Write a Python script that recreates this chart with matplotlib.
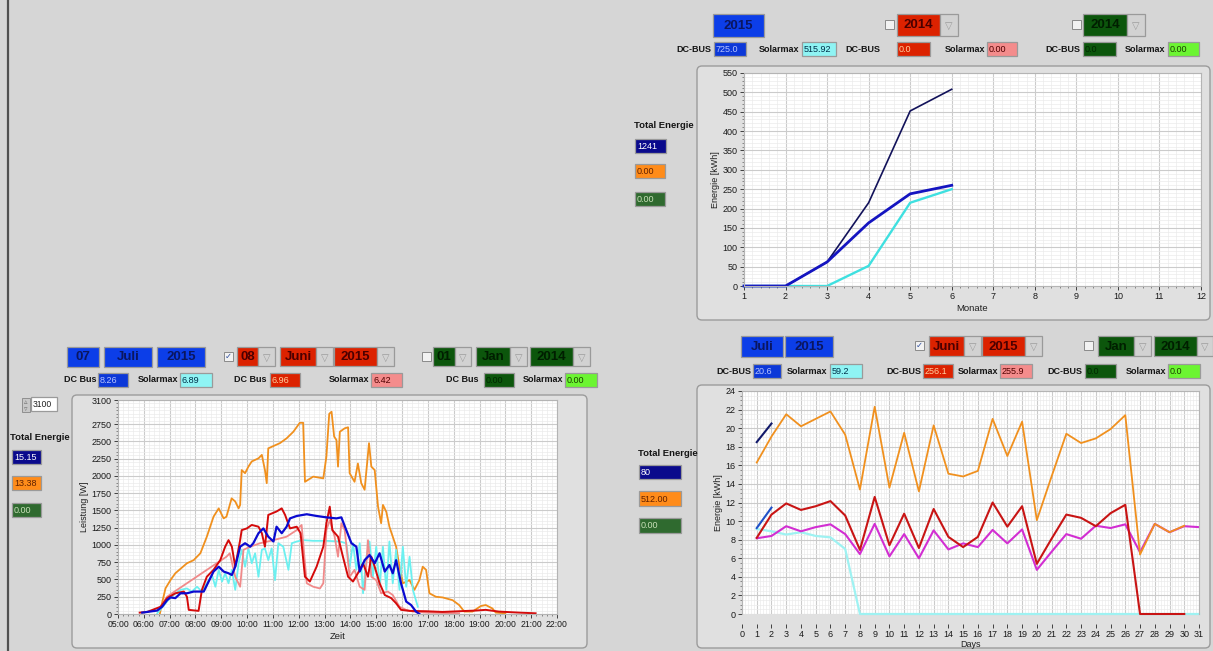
import numpy as np
import matplotlib
matplotlib.use('Agg')
import matplotlib.pyplot as plt
from matplotlib.patches import Rectangle, FancyBboxPatch
from matplotlib.ticker import MultipleLocator

plt.rcParams['font.family'] = ['Liberation Sans', 'DejaVu Sans']

W, H = 1213, 651
BG = '#d6d6d6'

# monthly energy 2015 (top right)
monate = [1, 2, 3, 4, 5, 6]
monat_summe = [0, 0, 62, 215, 452, 508]
monat_dcbus = [0, 0, 62, 163, 238, 260]
monat_solarmax = [0, 0, 0, 52, 215, 250]

# daily energy (bottom right)
tage_juni = list(range(1, 31))
tag_summe_juni = [16.3, 19.1, 21.5, 20.2, 21.0, 21.8, 19.3, 13.4, 22.3, 13.6,
                  19.5, 13.2, 20.3, 15.1, 14.8, 15.4, 21.0, 17.0, 20.7, 10.1,
                  14.8, 19.4, 18.4, 18.9, 19.9, 21.4, 6.4, 9.7, 8.8, 9.5]
tag_dcbus_juni = [8.2, 10.7, 11.9, 11.2, 11.6, 12.15, 10.6, 6.9, 12.6, 7.4,
                  10.8, 7.1, 11.3, 8.3, 7.2, 8.3, 12.0, 9.4, 11.6, 5.4,
                  8.1, 10.7, 10.35, 9.45, 10.85, 11.75, 0, 0, 0, 0]
tage_31 = list(range(1, 32))
tag_solarmax_juni = [8.15, 8.4, 9.45, 8.9, 9.35, 9.65, 8.6, 6.45, 9.7, 6.2,
                     8.6, 6.0, 9.0, 6.95, 7.6, 7.2, 9.05, 7.6, 9.1, 4.75,
                     6.7, 8.6, 8.1, 9.5, 9.25, 9.65, 6.65, 9.7, 8.8, 9.45, 9.35]
tag_solarmax_juli = [9.15, 8.9, 8.55, 8.8, 8.4, 8.25, 7.0, 0, 0, 0,
                     0, 0, 0, 0, 0, 0, 0, 0, 0, 0,
                     0, 0, 0, 0, 0, 0, 0, 0, 0, 0, 0]
tage_juli = [1, 2]
tag_summe_juli = [18.5, 20.5]
tag_dcbus_juli = [9.25, 11.45]

# power over the day (bottom left), (hour, W)
leistung_orange = [(6.62, 0), (6.7, 150), (6.84, 372), (7.03, 490), (7.22, 590),
                   (7.67, 735), (7.93, 780), (8.19, 880), (8.44, 1120), (8.70, 1410),
                   (8.9, 1530), (9.09, 1385), (9.2, 1410), (9.4, 1675), (9.54, 1630),
                   (9.67, 1530), (9.73, 1580), (9.79, 2085), (9.92, 2040), (10.05, 2135),
                   (10.18, 2210), (10.44, 2255), (10.57, 2305), (10.69, 2085), (10.76, 1895),
                   (10.82, 2400), (11.27, 2475), (11.53, 2545), (11.79, 2640), (12.04, 2770),
                   (12.17, 2770), (12.24, 1915), (12.56, 1990), (12.95, 1965), (13.07, 2280),
                   (13.18, 2900), (13.27, 2930), (13.37, 2570), (13.46, 2520), (13.52, 2135),
                   (13.59, 2640), (13.78, 2690), (13.91, 2705), (13.97, 2040), (14.16, 1915),
                   (14.29, 2180), (14.42, 1895), (14.55, 1800), (14.72, 2475), (14.81, 2135),
                   (14.94, 2085), (15.07, 1555), (15.19, 1315), (15.26, 1580), (15.39, 1480),
                   (15.51, 1265), (15.64, 1120), (15.77, 975), (15.9, 685), (16.03, 445),
                   (16.29, 490), (16.48, 350), (16.67, 490), (16.8, 685), (16.93, 640),
                   (17.06, 300), (17.31, 250), (17.57, 240), (17.96, 200), (18.21, 130),
                   (18.41, 35), (18.73, 35), (19.05, 115), (19.24, 130), (19.5, 80),
                   (19.63, 20), (20.0, 10)]
leistung_dcbus_juni = [(5.84, 20), (6.13, 30), (6.65, 105), (6.9, 230), (7.22, 300),
                       (7.55, 325), (7.67, 250), (7.74, 60), (8.12, 45), (8.25, 350),
                       (8.44, 540), (8.70, 640), (8.96, 780), (9.15, 975), (9.28, 1070),
                       (9.41, 975), (9.54, 685), (9.73, 1070), (9.79, 1215), (9.99, 1240),
                       (10.18, 1290), (10.44, 1265), (10.57, 1170), (10.69, 975), (10.82, 1435),
                       (11.14, 1485), (11.34, 1530), (11.47, 1435), (11.66, 1240), (11.92, 1265),
                       (12.07, 1170), (12.24, 540), (12.43, 470), (12.69, 685), (12.95, 975),
                       (13.07, 1315), (13.2, 1555), (13.3, 1215), (13.52, 1120), (13.71, 830),
                       (13.91, 540), (14.1, 470), (14.29, 590), (14.49, 735), (14.68, 540),
                       (14.81, 830), (14.94, 685), (15.13, 445), (15.33, 275), (15.58, 230),
                       (15.77, 155), (15.96, 60), (16.29, 45), (16.93, 40), (17.57, 30),
                       (18.21, 40), (18.86, 50), (19.24, 60), (19.75, 35), (20.53, 20),
                       (21.17, 10)]
leistung_solarmax_juni = [(6.65, 105), (6.9, 250), (7.05, 290), (9.2, 830), (9.33, 880),
                          (9.54, 540), (9.73, 395), (9.86, 930), (10.12, 975), (10.5, 1025),
                          (11.02, 1070), (11.53, 1120), (11.92, 1215), (12.11, 1290), (12.24, 735),
                          (12.31, 445), (12.56, 395), (12.82, 370), (12.95, 445), (13.07, 1215),
                          (13.2, 1360), (13.39, 1120), (13.52, 830), (13.65, 1315), (13.78, 1215),
                          (13.97, 540), (14.16, 640), (14.36, 395), (14.55, 350), (14.68, 1070),
                          (14.81, 540), (15.0, 490), (15.19, 300), (15.45, 325), (15.64, 275),
                          (15.9, 105), (16.16, 60), (16.42, 35), (16.93, 20), (18.21, 10)]
leistung_dcbus_juli = [(5.94, 20), (6.52, 50), (6.71, 105), (6.9, 200), (7.03, 240),
                       (7.22, 230), (7.42, 300), (7.67, 300), (7.93, 325), (8.32, 325),
                       (8.51, 470), (8.7, 615), (8.9, 685), (9.09, 615), (9.28, 590),
                       (9.41, 565), (9.54, 685), (9.73, 975), (9.92, 1025), (10.12, 975),
                       (10.24, 1025), (10.44, 1170), (10.63, 1240), (10.82, 1120), (11.02, 1050),
                       (11.14, 1265), (11.34, 1170), (11.53, 1265), (11.66, 1385), (11.92, 1420),
                       (12.31, 1445), (12.69, 1420), (13.07, 1400), (13.46, 1385), (13.65, 1400),
                       (13.84, 1215), (14.04, 1025), (14.23, 975), (14.36, 615), (14.55, 780),
                       (14.74, 855), (14.94, 735), (15.13, 880), (15.33, 615), (15.51, 710),
                       (15.64, 590), (15.77, 780), (15.96, 445), (16.16, 180), (16.35, 130),
                       (16.54, 35), (16.67, 0)]
leistung_solarmax_juli = [(6.52, 10), (7.03, 240), (7.42, 350), (7.67, 370), (7.86, 325),
                          (8.06, 395), (8.25, 325), (8.44, 445), (8.64, 565), (8.77, 395),
                          (8.9, 640), (9.03, 470), (9.15, 590), (9.28, 445), (9.41, 640),
                          (9.54, 350), (9.67, 735), (9.79, 930), (9.92, 685), (10.05, 950),
                          (10.18, 735), (10.31, 880), (10.44, 540), (10.57, 930), (10.69, 950),
                          (10.82, 780), (10.95, 950), (11.08, 490), (11.21, 1025), (11.4, 975),
                          (11.6, 640), (11.73, 1025), (11.92, 1050), (12.17, 1070), (12.56, 1060),
                          (13.07, 1060), (13.59, 1050), (13.84, 1025), (13.97, 685), (14.1, 1025),
                          (14.23, 640), (14.36, 1025), (14.49, 300), (14.62, 830), (14.74, 1050),
                          (14.87, 540), (15.0, 975), (15.13, 395), (15.26, 975), (15.39, 350),
                          (15.51, 1050), (15.64, 445), (15.77, 930), (15.9, 350), (16.03, 975),
                          (16.16, 395), (16.29, 830), (16.42, 350), (16.61, 105)]

# widget texts
werte_oben = ['725.0', '515.92', '0.0', '0.00', '0.0', '0.00']
werte_links = ['8.26', '6.89', '6.96', '6.42', '0.00', '0.00']
werte_rechts = ['20.6', '59.2', '256.1', '255.9', '0.0', '0.0']
summen_oben = ['1241', '0.00', '0.00']
summen_links = ['15.15', '13.38', '0.00']
summen_rechts = ['80', '512.00', '0.00']

C_BLUE = '#0c3ee8'
C_NAVY = '#0a0a8c'
C_RED = '#dc2200'
C_PINK = '#f48c8c'
C_CYAN = '#8ff4f4'
C_DGREEN = '#0c560c'
C_LIME = '#6cf532'
C_ORANGE = '#ff8c1a'
C_GREEN = '#2f6a2f'

fig = plt.figure(figsize=(W / 100, H / 100), dpi=100, facecolor=BG)
bg = fig.add_axes([0, 0, 1, 1], zorder=0)
bg.set_xlim(0, W)
bg.set_ylim(H, 0)
bg.axis('off')
bg.axvline(8, color='#505050', lw=1.6)


def feld(x0, y0, x1, y1, fc, txt='', tc='k', size=6.5, bold=False, center=False):
    bg.add_patch(Rectangle((x0, y0), x1 - x0, y1 - y0, facecolor=fc,
                           edgecolor='#9a9a9a', lw=0.9))
    if txt:
        if center:
            bg.text((x0 + x1) / 2, (y0 + y1) / 2 + 0.5, txt, ha='center', va='center',
                    color=tc, fontsize=size, fontweight='bold' if bold else 'normal')
        else:
            bg.text(x0 + 2, (y0 + y1) / 2 + 0.5, txt, ha='left', va='center',
                    color=tc, fontsize=size, fontweight='bold' if bold else 'normal')


def pfeil(x0, y0, x1, y1):
    bg.add_patch(Rectangle((x0, y0), x1 - x0, y1 - y0, facecolor='#d2d2d2',
                           edgecolor='#9a9a9a', lw=0.9))
    bg.text((x0 + x1) / 2, (y0 + y1) / 2 + 1, '▽', ha='center', va='center',
            color='#9a9a9a', fontsize=7, family='DejaVu Sans')


def haken(x, y, an):
    bg.add_patch(Rectangle((x, y), 9, 9, facecolor='#f2f2f2', edgecolor='#8a8a8a', lw=0.7))
    if an:
        bg.text(x + 4.5, y + 4.8, '✓', ha='center', va='center', fontsize=6,
                color='#3050a0', family='DejaVu Sans')


def label(x, y, txt):
    bg.text(x, y, txt, ha='right', va='center', fontsize=6.5, fontweight='bold', color='#151515')


def rahmen(x0, y0, x1, y1):
    bg.add_patch(FancyBboxPatch((x0, y0), x1 - x0, y1 - y0,
                                boxstyle='round,pad=0,rounding_size=5',
                                facecolor='#e0e0e0', edgecolor='#9c9c9c', lw=1.0))


# ---------------- top right ----------------
feld(713, 14, 764, 37, C_BLUE, '2015', '#0a1660', 9.5, True, True)
haken(885, 20, False)
feld(897, 14, 940, 36, C_RED, '2014', '#4a0000', 9.5, True, True)
pfeil(940, 14, 958, 36)
haken(1072, 20, False)
feld(1083, 14, 1127, 36, C_DGREEN, '2014', '#001e00', 9.5, True, True)
pfeil(1127, 14, 1145, 36)

y0, y1 = 42, 56
label(711, 49, 'DC-BUS')
feld(714, y0, 746, y1, '#0c38d8', werte_oben[0], '#b8c4ff')
label(799, 49, 'Solarmax')
feld(802, y0, 836, y1, C_CYAN, werte_oben[1], '#00304a')
label(880, 49, 'DC-BUS')
feld(897, y0, 930, y1, C_RED, werte_oben[2], '#ffd0a0')
label(985, 49, 'Solarmax')
feld(987, y0, 1017, y1, C_PINK, werte_oben[3], '#500000')
label(1080, 49, 'DC-BUS')
feld(1083, y0, 1116, y1, C_DGREEN, werte_oben[4], '#002800')
label(1165, 49, 'Solarmax')
feld(1168, y0, 1199, y1, C_LIME, werte_oben[5], '#1a4000')

bg.text(634, 126, 'Total Energie', ha='left', va='center', fontsize=6.8,
        fontweight='bold', color='#151515')
feld(635, 139, 666, 153, C_NAVY, summen_oben[0], 'white')
feld(635, 164, 665, 178, C_ORANGE, summen_oben[1], '#602000')
feld(635, 192, 665, 206, C_GREEN, summen_oben[2], '#c8e0b8')

rahmen(697, 66, 1210, 320)

# ---------------- bottom left ----------------
feld(67, 347, 99, 367, C_BLUE, '07', '#0a1660', 9.5, True, True)
feld(104, 347, 152, 367, C_BLUE, 'Juli', '#0a1660', 9.5, True, True)
feld(157, 347, 205, 367, C_BLUE, '2015', '#0a1660', 9.5, True, True)
haken(224, 352, True)
feld(237, 347, 258, 366, C_RED, '08', '#4a0000', 9.5, True, True)
pfeil(258, 347, 275, 366)
feld(280, 347, 316, 366, C_RED, 'Juni', '#4a0000', 9.5, True, True)
pfeil(316, 347, 333, 366)
feld(334, 347, 377, 366, C_RED, '2015', '#4a0000', 9.5, True, True)
pfeil(377, 347, 394, 366)
haken(422, 352, False)
feld(433, 347, 455, 366, C_DGREEN, '01', '#001e00', 9.5, True, True)
pfeil(455, 347, 471, 366)
feld(476, 347, 510, 366, C_DGREEN, 'Jan', '#001e00', 9.5, True, True)
pfeil(510, 347, 527, 366)
feld(530, 347, 573, 366, C_DGREEN, '2014', '#001e00', 9.5, True, True)
pfeil(573, 347, 590, 366)

y0, y1 = 373, 387
label(96, 380, 'DC Bus')
feld(98, y0, 128, y1, '#0c38d8', werte_links[0], '#b8c4ff')
label(178, 380, 'Solarmax')
feld(180, y0, 212, y1, C_CYAN, werte_links[1], '#00304a')
label(267, 380, 'DC Bus')
feld(270, y0, 300, y1, C_RED, werte_links[2], '#ffd0a0')
label(369, 380, 'Solarmax')
feld(371, y0, 402, y1, C_PINK, werte_links[3], '#500000')
label(478, 380, 'DC Bus')
feld(484, y0, 514, y1, C_DGREEN, werte_links[4], '#002800')
label(563, 380, 'Solarmax')
feld(565, y0, 597, y1, C_LIME, werte_links[5], '#1a4000')

# spinner with 3100
bg.add_patch(Rectangle((22, 398), 8, 14, facecolor='#c8c8c8', edgecolor='#909090', lw=0.7))
bg.text(26, 402, '▵', ha='center', va='center', fontsize=5, color='#707070', family='DejaVu Sans')
bg.text(26, 409, '▿', ha='center', va='center', fontsize=5, color='#707070', family='DejaVu Sans')
feld(31, 397, 57, 411, 'white', '3100', '#202020', 6.2)

bg.text(10, 437, 'Total Energie', ha='left', va='center', fontsize=6.8,
        fontweight='bold', color='#151515')
feld(12, 450, 41, 464, C_NAVY, summen_links[0], 'white')
feld(12, 476, 41, 490, C_ORANGE, summen_links[1], '#602000')
feld(12, 503, 41, 517, C_GREEN, summen_links[2], '#c8e0b8')

rahmen(72, 395, 587, 648)

# ---------------- bottom right ----------------
feld(741, 336, 783, 357, C_BLUE, 'Juli', '#0a1660', 9.5, True, True)
feld(785, 336, 833, 357, C_BLUE, '2015', '#0a1660', 9.5, True, True)
haken(915, 341, True)
feld(929, 336, 964, 356, C_RED, 'Juni', '#4a0000', 9.5, True, True)
pfeil(964, 336, 981, 356)
feld(982, 336, 1025, 356, C_RED, '2015', '#4a0000', 9.5, True, True)
pfeil(1025, 336, 1042, 356)
haken(1084, 341, False)
feld(1098, 336, 1134, 356, C_DGREEN, 'Jan', '#001e00', 9.5, True, True)
pfeil(1134, 336, 1151, 356)
feld(1154, 336, 1197, 356, C_DGREEN, '2014', '#001e00', 9.5, True, True)
pfeil(1197, 336, 1213, 356)

y0, y1 = 364, 378
label(751, 371, 'DC-BUS')
feld(753, y0, 781, y1, '#0c38d8', werte_rechts[0], '#b8c4ff')
label(827, 371, 'Solarmax')
feld(830, y0, 862, y1, C_CYAN, werte_rechts[1], '#00304a')
label(921, 371, 'DC-BUS')
feld(923, y0, 953, y1, C_RED, werte_rechts[2], '#ffd0a0')
label(998, 371, 'Solarmax')
feld(1000, y0, 1032, y1, C_PINK, werte_rechts[3], '#500000')
label(1082, 371, 'DC-BUS')
feld(1085, y0, 1116, y1, C_DGREEN, werte_rechts[4], '#002800')
label(1166, 371, 'Solarmax')
feld(1168, y0, 1200, y1, C_LIME, werte_rechts[5], '#1a4000')

bg.text(638, 454, 'Total Energie', ha='left', va='center', fontsize=6.8,
        fontweight='bold', color='#151515')
feld(639, 465, 681, 479, C_NAVY, summen_rechts[0], 'white')
feld(639, 491, 681, 506, C_ORANGE, summen_rechts[1], '#602000')
feld(639, 518, 681, 533, C_GREEN, summen_rechts[2], '#c8e0b8')

rahmen(697, 385, 1210, 648)


# ---------------- chart axes ----------------
def px_axes(x0, y0, x1, y1):
    return fig.add_axes([x0 / W, 1 - y1 / H, (x1 - x0) / W, (y1 - y0) / H], zorder=2)


def style(ax):
    ax.set_facecolor('white')
    ax.grid(which='major', color='#cbcbcb', lw=0.8)
    ax.grid(which='minor', color='#ebebeb', lw=0.5)
    ax.set_axisbelow(True)
    for s in ['top', 'right', 'bottom']:
        ax.spines[s].set_color('#b4b4b4')
        ax.spines[s].set_linewidth(0.8)
    ax.spines['left'].set_color('#b4b4b4')
    ax.tick_params(which='major', labelsize=6.5, length=3, width=0.7, color='#404040',
                   labelcolor='#1a1a1a', pad=1.5)
    ax.tick_params(which='minor', length=1.5, width=0.5, color='#606060')


# top right: monthly
ax1 = px_axes(744, 73, 1201, 286)
style(ax1)
ax1.plot(monate, monat_summe, color='#12125a', lw=1.2, clip_on=False)
ax1.plot(monate, monat_solarmax, color='#3fe0e0', lw=1.7, clip_on=False)
ax1.plot(monate, monat_dcbus, color='#1414c0', lw=2.0, clip_on=False)
ax1.set_xlim(1, 12)
ax1.set_ylim(0, 550)
ax1.set_xticks(range(1, 13))
ax1.set_yticks(range(0, 551, 50))
ax1.xaxis.set_minor_locator(MultipleLocator(0.2))
ax1.yaxis.set_minor_locator(MultipleLocator(10))
ax1.set_xlabel('Monate', fontsize=6.8, labelpad=2, color='#202020')
ax1.set_ylabel('Energie [kWh]', fontsize=6.5, labelpad=2, color='#202020')

# bottom left: power over the day
ax2 = px_axes(118, 400, 557, 614)
style(ax2)
for serie, col, lw in [(leistung_orange, '#f0901e', 1.3),
                       (leistung_solarmax_juli, '#6cf0f0', 1.3),
                       (leistung_solarmax_juni, '#f08a8a', 1.3),
                       (leistung_dcbus_juni, '#d40a0a', 1.4),
                       (leistung_dcbus_juli, '#0a0ad0', 1.6)]:
    h, w = np.array(serie).T
    ax2.plot(h, w, color=col, lw=lw)
ax2.set_xlim(5, 22)
ax2.set_ylim(0, 3100)
ax2.set_xticks(range(5, 23))
ax2.set_xticklabels(['%02d:00' % h for h in range(5, 23)])
ax2.set_yticks(list(range(0, 2751, 250)) + [3100])
ax2.xaxis.set_minor_locator(MultipleLocator(0.2))
ax2.yaxis.set_minor_locator(MultipleLocator(50))
ax2.tick_params(axis='x', labelsize=6.2)
ax2.set_xlabel('Zeit', fontsize=6.8, labelpad=2, color='#202020')
ax2.set_ylabel('Leistung [W]', fontsize=6.5, labelpad=2, color='#202020')

# bottom right: daily energy
ax3 = px_axes(742, 391, 1199, 614)
style(ax3)
ax3.plot(tage_31, tag_solarmax_juli, color='#9ef2f2', lw=1.6, clip_on=False)
ax3.plot(tage_31, tag_solarmax_juni, color='#d22ed2', lw=1.5)
ax3.plot(tage_juni, tag_summe_juni, color='#f0901e', lw=1.3)
ax3.plot(tage_juni, tag_dcbus_juni, color='#c81414', lw=1.5, clip_on=False)
ax3.plot(tage_juli, tag_summe_juli, color='#10186a', lw=1.5)
ax3.plot(tage_juli, tag_dcbus_juli, color='#1e50c8', lw=1.5)
ax3.set_xlim(0, 31)
ax3.set_ylim(0, 24)
ax3.set_xticks(range(0, 32))
ax3.set_yticks(range(0, 25, 2))
ax3.xaxis.set_minor_locator(MultipleLocator(0.2))
ax3.yaxis.set_minor_locator(MultipleLocator(0.5))
ax3.spines['bottom'].set_position(('outward', 7))
ax3.spines['bottom'].set_visible(False)
ax3.tick_params(axis='x', which='minor', length=0)
ax3.set_xlabel('Days', fontsize=6.5, color='#202020')
ax3.xaxis.set_label_coords(0.5, -0.117)
ax3.set_ylabel('Energie [kWh]', fontsize=6.5, labelpad=2, color='#202020')

fig.savefig('out.png', dpi=100, facecolor=BG)
